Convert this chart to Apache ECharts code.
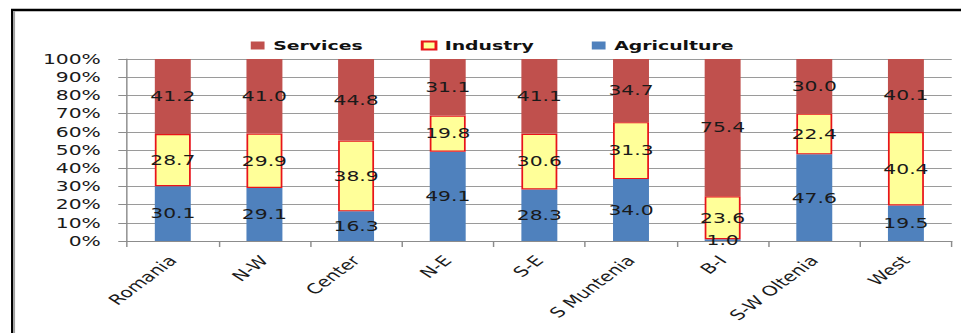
<!DOCTYPE html>
<html><head><meta charset="utf-8">
<script src="https://cdn.jsdelivr.net/npm/echarts@6/dist/echarts.min.js"></script>
<style>
html,body{margin:0;padding:0;background:#fff;overflow:hidden;}
#c{width:663px;height:333px;transform:scaleX(1.4495);transform-origin:0 0;}
</style></head>
<body><div id="c"></div>
<script>
const categories = ['Romania','N-W','Center','N-E','S-E','S Muntenia','B-I','S-W Oltenia','West'];
const agriculture = [30.1, 29.1, 16.3, 49.1, 28.3, 34.0, 1.0, 47.6, 19.5];
const industry    = [28.7, 29.9, 38.9, 19.8, 30.6, 31.3, 23.6, 22.4, 40.4];
const services    = [41.2, 41.0, 44.8, 31.1, 41.1, 34.7, 75.4, 30.0, 40.1];

const chart = echarts.init(document.getElementById('c'), null, {renderer:'svg'});
const FONT = 'DejaVu Sans';
const lbl = {show:true, position:'inside', color:'#1a1a1a', fontSize:14, fontFamily:FONT,
  formatter: p => p.value.toFixed(1)};
chart.setOption({
  animation:false,
  backgroundColor:'#fff',
  textStyle:{fontFamily:FONT},
  graphic:[
    {type:'line', shape:{x1:7.6,y1:10,x2:700,y2:10}, style:{stroke:'#000',lineWidth:2.5}},
    {type:'line', shape:{x1:8.3,y1:9,x2:8.3,y2:340}, style:{stroke:'#000',lineWidth:1.4}},
    {type:'line', shape:{x1:9.7,y1:11,x2:9.7,y2:340}, style:{stroke:'#a0a0a0',lineWidth:1.4}}
  ],
  legend:{
    data:['Services','Industry','Agriculture'],
    left:168, top:34, itemWidth:9.5, itemHeight:8, itemGap:40,
    icon:'rect',
    textStyle:{fontFamily:FONT, fontSize:13, fontWeight:'bold', color:'#111', padding:[0,0,0,1]}
  },
  grid:{left:87.6, right:6.4, top:59, bottom:92, containLabel:false},
  xAxis:{
    type:'category', data:categories,
    axisLine:{lineStyle:{color:'#8c8c8c'}},
    axisTick:{show:true, length:6, lineStyle:{color:'#8c8c8c'}},
    axisLabel:{rotate:47, margin:17, fontSize:14, color:'#1a1a1a', fontFamily:FONT, interval:0}
  },
  yAxis:{
    type:'value', min:0, max:100, interval:10,
    axisLine:{show:true, lineStyle:{color:'#8c8c8c'}},
    axisTick:{show:true, length:6, lineStyle:{color:'#8c8c8c'}},
    splitLine:{lineStyle:{color:'#9a9a9a'}},
    axisLabel:{formatter:'{value}%', margin:18, fontSize:14, color:'#1a1a1a', fontFamily:FONT}
  },
  series:[
    {name:'Agriculture', type:'bar', stack:'s', data:agriculture, barWidth:24.8,
     itemStyle:{color:'#4F81BD'}, label:lbl},
    {name:'Industry', type:'bar', stack:'s', data:industry, barWidth:24.8,
     itemStyle:{color:'#FFFF99', borderColor:'#E8141A', borderWidth:1.2}, label:lbl},
    {name:'Services', type:'bar', stack:'s', data:services, barWidth:24.8,
     itemStyle:{color:'#C0504D'}, label:lbl}
  ]
});
</script></body></html>
